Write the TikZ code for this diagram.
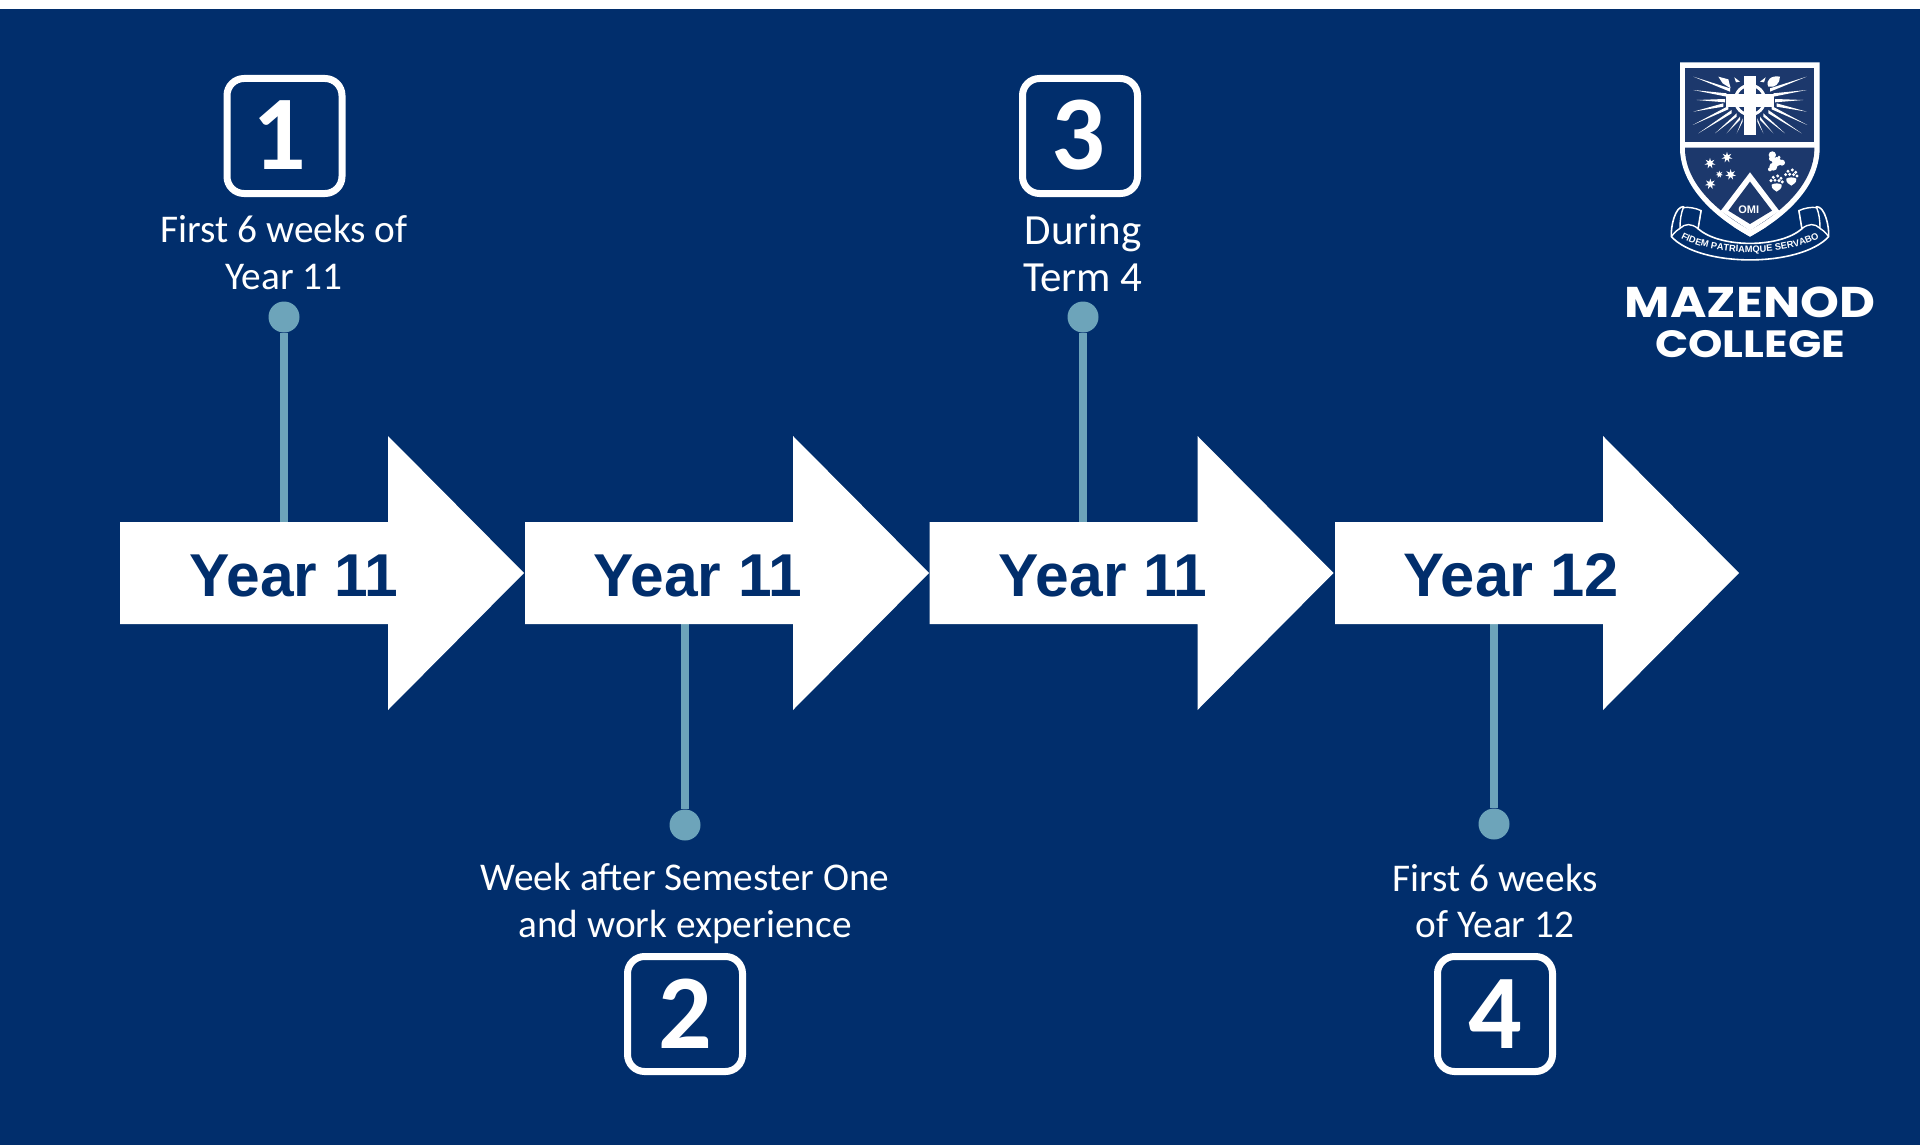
\documentclass[tikz,border=0pt]{standalone}
\usepackage{fontspec}
\setmainfont{Carlito}
\newfontfamily\arialf{Liberation Sans}
\newfontfamily\logof[FakeStretch=1.15]{Poppins}
\usetikzlibrary{shapes.geometric,decorations.text}
\definecolor{navy}{HTML}{012E6C}
\definecolor{panel}{HTML}{1C386C}
\definecolor{stem}{HTML}{6DA4BA}
\tikzset{
  bigarrow/.style={fill=white,draw=none},
  yearlabel/.style={anchor=base,text=navy,inner sep=0pt,font=\arialf\bfseries\fontsize{60.5}{60.5}\selectfont},
  numbox/.style={draw=white,line width=7pt,rounded corners=17pt,minimum width=115pt,minimum height=115pt,inner sep=0pt,fill=navy},
  numtext/.style={anchor=base,text=white,inner sep=0pt,font=\bfseries\fontsize{106}{106}\selectfont},
  caption/.style={anchor=base,text=white,inner sep=0pt,font=\fontsize{39.3}{39.3}\selectfont},
  bigcaption/.style={caption,font=\fontsize{43}{43}\selectfont},
  stemdot/.style={circle,fill=stem,minimum size=31pt,inner sep=0pt},
  stemline/.style={draw=stem,line width=8.5pt},
}
\newcommand{\yeararrow}[2]{%
  \fill[bigarrow] (#1,522) -- ({#1+268},522) -- ({#1+268},436) -- ({#1+404},573) -- ({#1+268},710) -- ({#1+268},624) -- (#1,624) -- cycle;
}
\begin{document}
\begin{tikzpicture}[x=1pt,y=-1pt]
\useasboundingbox (0,0) rectangle (1920,1145);
\fill[white] (0,0) rectangle (1920,9);
\fill[navy] (0,9) rectangle (1920,1145);

% stems (dots and connectors)
\node[stemdot] (d1) at (284,317) {};
\node[stemdot] (d2) at (685,825) {};
\node[stemdot] (d3) at (1083,317) {};
\node[stemdot] (d4) at (1494,824) {};
\coordinate (e1) at (284,524);
\coordinate (e2) at (685,622);
\coordinate (e3) at (1083,524);
\coordinate (e4) at (1494,622);
\draw[stemline] (d1) -- (e1);
\draw[stemline] (d2) -- (e2);
\draw[stemline] (d3) -- (e3);
\draw[stemline] (d4) -- (e4);

% arrows
\yeararrow{120}{a}
\yeararrow{525}{b}
\yeararrow{929.5}{c}
\yeararrow{1335}{f}
\node[yearlabel] (y1) at (294,596.5) {Year 11};
\node[yearlabel] (y2) at (698,596.5) {Year 11};
\node[yearlabel] (y3) at (1103,596.5) {Year 11};
\node[yearlabel,font=\arialf\bfseries\fontsize{61.5}{61.5}\selectfont] (y4) at (1511,596.5) {Year 12};

% number boxes
\node[numbox] (b1) at (284.5,136) {};
\node[numbox] (b2) at (685,1014) {};
\node[numbox] (b3) at (1080,136) {};
\node[numbox] (b4) at (1495,1014) {};
\node[numtext] (n1) at (279,169) {1};
\node[numtext] (n2) at (685,1048) {2};
\node[numtext] (n3) at (1078,170) {3};
\node[numtext] (n4) at (1495,1048) {4};

% captions
\node[caption] (c1a) at (284,242) {First 6 weeks of};
\node[caption] (c1b) at (284,289) {Year 11};
\node[caption] (c2a) at (685,890) {Week after Semester One};
\node[caption] (c2b) at (685,937) {and work experience};
\node[bigcaption] (c3a) at (1083,244) {During};
\node[bigcaption] (c3b) at (1083,291) {Term 4};
\node[caption] (c4a) at (1495,891) {First 6 weeks};
\node[caption] (c4b) at (1495,937) {of Year 12};

% logo: coordinates in 3x crop units
\begin{scope}[shift={(1600,40)},x=0.3333pt,y=-0.3333pt]
  % shield
  \fill[white] (240,67) -- (659,67) -- (659,330) .. controls (655,440) and (560,530) .. (450,590)
     .. controls (340,530) and (245,440) .. (240,330) -- cycle;
  \fill[panel] (255,84) rectangle (643,306);
  \fill[panel] (255,323) -- (643,323) -- (643,330) .. controls (640,430) and (550,515) .. (450,570)
     .. controls (350,515) and (258,430) .. (255,330) -- cycle;
  % rays
  \foreach \sx/\sy/\ex/\ey in {280/110/390/150,280/150/380/165,290/180/375/182,280/215/370/195,
      278/255/385/203,295/280/395/215,345/280/410/225,380/280/420/235,410/280/428/240}{
    \fill[white] (\sx,\sy) -- ({\ex},{\ey-5}) -- ({\ex},{\ey+5}) -- cycle;
    \fill[white] ({900-\sx},\sy) -- ({900-\ex},{\ey-5}) -- ({900-\ex},{\ey+5}) -- cycle;
  }
  % cross
  \draw[white,line width=3pt] (450,180) circle (44);
  \fill[white] (433,107) rectangle (467,285);
  \fill[white] (378,163) rectangle (522,200);
  % crest items at the top
  \fill[white] (355,110) -- (385,118) -- (392,145) -- (368,130) -- cycle;
  \fill[white] (403,112) -- (420,125) -- (408,127) -- cycle;
  \fill[white] (497,112) -- (480,125) -- (492,127) -- cycle;
  \fill[white] (505,140) .. controls (495,120) and (515,105) .. (540,110) .. controls (540,130) and (525,145) .. (505,140) -- cycle;
  % stars
  \foreach \n/\px/\py/\r in {a/330/370/5.5,b/381/352/5.5,c/358/403/3.8,d/392/404/5.5,e/331/432/5.5}{
    \node[star,star points=7,star point ratio=2.4,fill=white,minimum size={2*\r pt},inner sep=0pt] (st\n) at (\px,\py) {};
  }
  % chevron
  \fill[white] (450,397) -- (538,513) -- (450,572) -- (362,513) -- cycle;
  \fill[panel] (450,425) -- (516,512) -- (450,552) -- (385,512) -- cycle;
  \node[inner sep=0pt,text=white,font=\arialf\bfseries\fontsize{11}{11}\selectfont] (omi) at (446,510) {OMI};
  % flower
  \foreach \px/\py/\r in {517/345/11,530/365/14,546/368/9,520/380/12,510/388/6,515/356/8,537/352/5}{
    \fill[white] (\px,\py) circle ({\r*1});
  }
  % footprints
  \foreach \ox/\oy in {530/440,574/422}{
    \fill[white] ({\ox-15},{\oy-6}) .. controls ({\ox-17},{\oy+6}) and ({\ox-6},{\oy+11}) .. (\ox,{\oy+15})
       .. controls ({\ox+6},{\oy+11}) and ({\ox+17},{\oy+6}) .. ({\ox+15},{\oy-6}) .. controls ({\ox+7},{\oy-11}) and ({\ox-7},{\oy-11}) .. cycle;
    \foreach \dx/\dy in {-17/-18,-10/-28,3/-32,13/-25,17/-14,-5/-19,7/-18}{
      \fill[white] ({\ox+\dx},{\oy+\dy}) circle (5);
    }
  }
  % scroll
  \draw[white,line width=1.6pt,fill=navy,line join=round]
    (250,500) .. controls (225,500) and (212,560) .. (214,590)
    .. controls (300,683) and (600,683) .. (686,590)
    .. controls (688,560) and (675,500) .. (650,500)
    .. controls (640,520) and (620,520) .. (597,512)
    -- (606,566) .. controls (540,625) and (360,625) .. (294,566)
    -- (303,512) .. controls (280,520) and (260,520) .. (250,500) -- cycle;
  \draw[white,line width=1.4pt,fill=navy] (303,512) .. controls (290,505) and (265,500) .. (250,503) .. controls (243,520) and (240,540) .. (240,565) .. controls (255,550) and (275,550) .. (294,566) -- cycle;
  \draw[white,line width=1.4pt,fill=navy] (597,512) .. controls (610,505) and (635,500) .. (650,503) .. controls (657,520) and (660,540) .. (660,565) .. controls (645,550) and (625,550) .. (606,566) -- cycle;
  \draw[white,line width=1.4pt] (214,590) .. controls (225,575) and (232,570) .. (240,565);
  \draw[white,line width=1.4pt] (686,590) .. controls (675,575) and (668,570) .. (660,565);
  % shield tip over scroll
  \fill[white] (400,560) -- (450,590) -- (500,560) -- (450,572) -- cycle;
  \path[postaction={decorate},decoration={text along path,text align=center,
      text={|\arialf\bfseries\fontsize{9.3}{9.3}\selectfont\color{white}|FIDEM PATRIAMQUE SERVABO}}]
    (238,592) .. controls (345,652) and (555,652) .. (662,592);
  % name
  \node[anchor=base,inner sep=0pt,text=white,font=\logof\bfseries\fontsize{43}{43}\selectfont] (mz) at (450,833) {MAZENOD};
  \node[anchor=base,inner sep=0pt,text=white,font=\logof\bfseries\fontsize{38}{38}\selectfont] (cg) at (450,952) {COLLEGE};
\end{scope}
\end{tikzpicture}
\end{document}
